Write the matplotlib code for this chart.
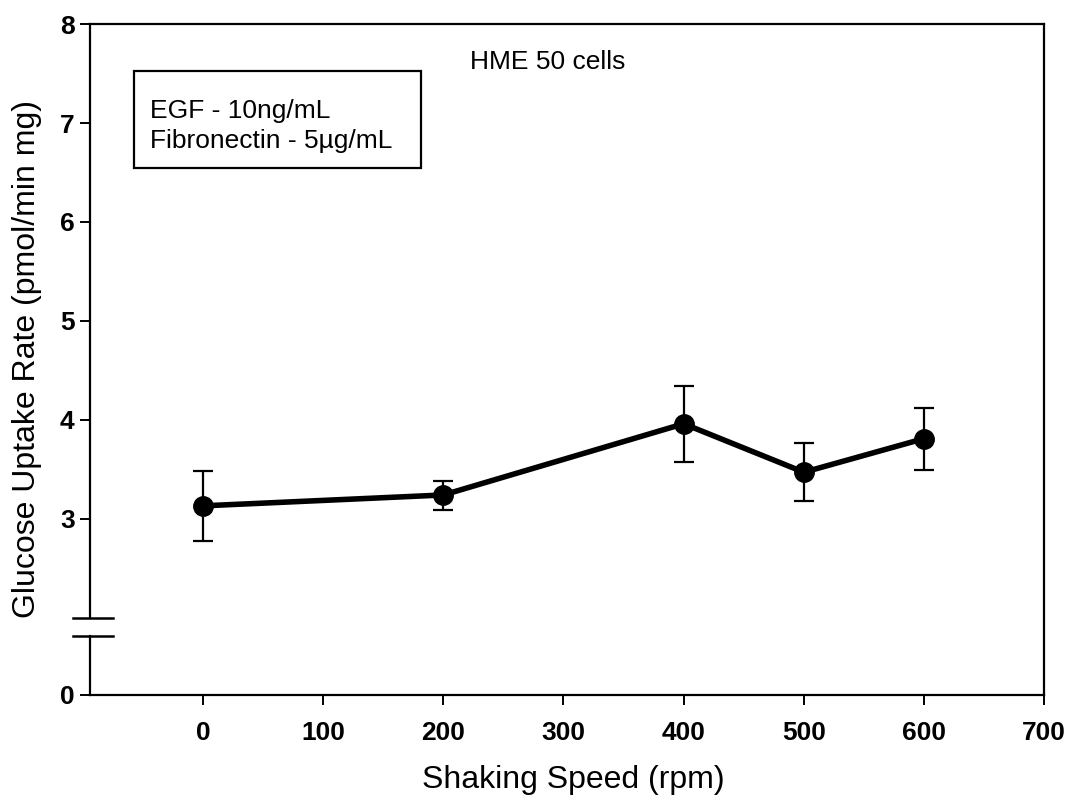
import matplotlib
matplotlib.use("Agg")
import matplotlib.pyplot as plt
import matplotlib.transforms as mtransforms
from matplotlib.patches import Rectangle
import numpy as np

# data
speeds = [0, 200, 400, 500, 600]          # rpm
uptake = [3.13, 3.24, 3.96, 3.47, 3.81]   # pmol/min mg
err_low = [2.77, 3.09, 3.57, 3.18, 3.49]
err_high = [3.48, 3.38, 4.34, 3.77, 4.12]

x_ticks = [0, 100, 200, 300, 400, 500, 600, 700]
y_ticks = [3, 4, 5, 6, 7, 8]

title_text = "HME 50 cells"
box_lines = ["EGF - 10ng/mL", "Fibronectin - 5\u00b5g/mL"]
x_label = "Shaking Speed (rpm)"
y_label = "Glucose Uptake Rate (pmol/min mg)"

# broken y axis: "0" is drawn just below the break
Y_ZERO_POS = 1.22
BREAK_HI, BREAK_LO = 2.0, 1.81

plt.rcParams["font.family"] = ["Liberation Sans", "DejaVu Sans"]

fig = plt.figure(figsize=(10.71, 8.06), dpi=100)
ax = fig.add_axes([0.084, 0.138, 0.891, 0.832])

yerr = [np.array(uptake) - np.array(err_low), np.array(err_high) - np.array(uptake)]
ax.errorbar(speeds, uptake, yerr=yerr, color="black", lw=4, marker="o",
            markersize=14, ecolor="black", elinewidth=1.6, capsize=7,
            capthick=1.6, zorder=3)

ax.set_xlim(-94, 700)
ax.set_ylim(Y_ZERO_POS, 8)
ax.set_xticks(x_ticks)
ax.set_xticklabels([str(t) for t in x_ticks])
ax.set_yticks([Y_ZERO_POS] + y_ticks)
ax.set_yticklabels(["0"] + [str(t) for t in y_ticks])
ax.tick_params(direction="out", length=7, width=1.4, labelsize=19)
ax.tick_params(axis="x", pad=12)
ax.tick_params(axis="y", pad=4)
for lab in ax.get_xticklabels() + ax.get_yticklabels():
    lab.set_fontweight("bold")

for side in ["top", "right", "bottom"]:
    ax.spines[side].set_linewidth(1.6)
ax.spines["left"].set_visible(False)

# left spine in two pieces with break marks
trans = mtransforms.blended_transform_factory(ax.transAxes, ax.transData)
ax.plot([0, 0], [BREAK_HI, 8], color="black", lw=1.6, transform=trans, clip_on=False)
ax.plot([0, 0], [Y_ZERO_POS, BREAK_LO], color="black", lw=1.6, transform=trans, clip_on=False)
for yb in (BREAK_HI, BREAK_LO):
    ax.plot([-0.018, 0.024], [yb, yb], color="black", lw=1.8, transform=trans, clip_on=False)

# annotations
ax.text(0.398, 0.933, title_text, transform=ax.transAxes, fontsize=19,
        ha="left", va="baseline")
ax.add_patch(Rectangle((0.046, 0.786), 0.301, 0.144, transform=ax.transAxes,
                       fill=False, edgecolor="black", lw=1.6))
ax.text(0.063, 0.860, box_lines[0], transform=ax.transAxes, fontsize=19,
        ha="left", va="baseline")
ax.text(0.063, 0.815, box_lines[1], transform=ax.transAxes, fontsize=19,
        ha="left", va="baseline")

ax.set_xlabel(x_label, fontsize=23)
ax.set_ylabel(y_label, fontsize=23)
ax.xaxis.set_label_coords(0.506, -0.127)
ax.yaxis.set_label_coords(-0.066, 0.5)
ax.xaxis.label.set_va("center")
ax.yaxis.label.set_va("center")

fig.savefig("out.png", dpi=100)
